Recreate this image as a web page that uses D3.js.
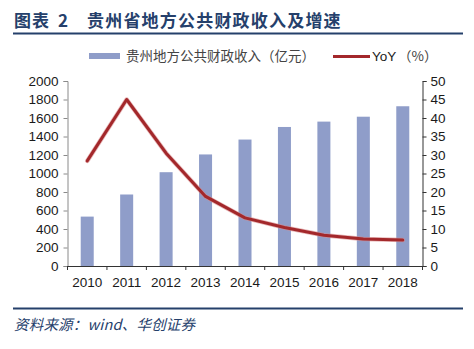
<!DOCTYPE html>
<html>
<head>
<meta charset="utf-8">
<script src="https://cdn.jsdelivr.net/npm/d3@7/dist/d3.min.js"></script>
<style>
  html, body { margin: 0; padding: 0; background: #fff; }
  svg { display: block; }
</style>
</head>
<body>
<svg id="chart" width="474" height="349"></svg>
<script>
// Guizhou public budget revenue (100 million yuan) and year-on-year growth (%)
const years = ["2010", "2011", "2012", "2013", "2014", "2015", "2016", "2017", "2018"];
const revenue = [534, 773, 1014, 1206, 1367, 1503, 1561, 1614, 1727];
const yoy = [28.4, 45.0, 30.5, 18.8, 13.0, 10.4, 8.3, 7.3, 7.0];
const leftTicks = [0, 200, 400, 600, 800, 1000, 1200, 1400, 1600, 1800, 2000];
const rightTicks = [0, 5, 10, 15, 20, 25, 30, 35, 40, 45, 50];

const titleLabel = "图表";
const titleNum = "2";
const titleMain = "贵州省地方公共财政收入及增速";
const legendBar = "贵州地方公共财政收入（亿元）";
const legendLine = "YoY";
const legendUnit = "（%）";
const sourceText = "资料来源：wind、华创证券";

const svg = d3.select("#chart");
const navy = "#25406b";
const barColor = "#8f9dc9";
const lineColor = "#a3282b";
const numFont = "'Liberation Sans', Arial, sans-serif";
const cjkFont = "'Noto Sans CJK SC', 'Noto Sans', sans-serif";

const plot = { left: 67.5, right: 422.5, top: 81, bottom: 266 };

const x = d3.scaleBand().domain(years).range([plot.left, plot.right]).paddingInner(0.67).paddingOuter(0.335);
const xb = d3.scaleBand().domain(years).range([plot.left, plot.right]);
const yL = d3.scaleLinear().domain([0, 2000]).range([plot.bottom, plot.top]);
const yR = d3.scaleLinear().domain([0, 50]).range([plot.bottom, plot.top]);

// Header
const titleAttrs = t => t.attr("y", 27).attr("font-family", cjkFont).attr("font-weight", 700)
  .attr("font-size", 17).attr("fill", navy);
svg.append("text").call(titleAttrs).attr("x", 14).attr("letter-spacing", 1).text(titleLabel);
svg.append("text").call(titleAttrs).attr("x", 58).text(titleNum);
svg.append("text").call(titleAttrs).attr("x", 87).attr("letter-spacing", 1.2).text(titleMain);
svg.append("line").attr("x1", 13).attr("x2", 463).attr("y1", 33.5).attr("y2", 33.5)
  .attr("stroke", navy).attr("stroke-width", 2);

// Bars
svg.append("g").selectAll("rect").data(years).join("rect")
  .attr("x", d => x(d))
  .attr("width", x.bandwidth())
  .attr("y", (d, i) => yL(revenue[i]))
  .attr("height", (d, i) => yL(0) - yL(revenue[i]))
  .attr("fill", barColor);

// Growth line
const line = d3.line()
  .x((d, i) => xb(years[i]) + xb.bandwidth() / 2)
  .y(d => yR(d));
svg.append("path").datum(yoy).attr("d", line)
  .attr("fill", "none").attr("stroke", "#d9888a").attr("stroke-width", 4.5)
  .attr("stroke-linejoin", "round").attr("stroke-linecap", "round").attr("opacity", 0.6);
svg.append("path").datum(yoy).attr("d", line)
  .attr("fill", "none").attr("stroke", lineColor).attr("stroke-width", 3)
  .attr("stroke-linejoin", "round").attr("stroke-linecap", "round");

// Axes
function styleAxis(g, color) {
  g.select(".domain").attr("stroke", color);
  g.selectAll(".tick line").attr("stroke", color);
  g.selectAll(".tick text").attr("font-family", numFont).attr("font-size", 13.5).attr("fill", "#1a1a1a");
}
const gL = svg.append("g").attr("transform", `translate(${plot.left},0)`)
  .call(d3.axisLeft(yL).tickValues(leftTicks).tickFormat(d3.format("d")).tickSizeOuter(0).tickSize(4).tickPadding(5));
styleAxis(gL, "#8a8a8a");

const gR = svg.append("g").attr("transform", `translate(${plot.right},0)`)
  .call(d3.axisRight(yR).tickValues(rightTicks).tickFormat(d3.format("d")).tickSizeOuter(0).tickSize(4).tickPadding(4));
styleAxis(gR, "#333");

const gB = svg.append("g").attr("transform", `translate(0,${plot.bottom})`)
  .call(d3.axisBottom(xb).tickSize(0).tickPadding(11));
styleAxis(gB, "#333");
gB.select(".domain").attr("d", `M${plot.left},0.5H${plot.right}`);
// category separator ticks
gB.append("g").selectAll("line").data(years.concat(["end"])).join("line")
  .attr("x1", (d, i) => plot.left + i * xb.step())
  .attr("x2", (d, i) => plot.left + i * xb.step())
  .attr("y1", 0).attr("y2", 4).attr("stroke", "#333");

// Legend
svg.append("rect").attr("x", 89).attr("y", 53).attr("width", 31).attr("height", 6).attr("fill", barColor);
svg.append("text").attr("x", 126).attr("y", 61)
  .attr("font-family", cjkFont).attr("font-size", 13.5).attr("fill", "#444").text(legendBar);
svg.append("line").attr("x1", 333).attr("x2", 370).attr("y1", 56.5).attr("y2", 56.5)
  .attr("stroke", lineColor).attr("stroke-width", 3);
svg.append("text").attr("x", 372).attr("y", 61)
  .attr("font-family", numFont).attr("font-size", 13.5).attr("fill", "#222").text(legendLine);
svg.append("text").attr("x", 398).attr("y", 61)
  .attr("font-family", cjkFont).attr("font-size", 13.5).attr("fill", "#444").text(legendUnit);

// Footer
svg.append("line").attr("x1", 13).attr("x2", 463).attr("y1", 308.5).attr("y2", 308.5)
  .attr("stroke", navy).attr("stroke-width", 2);
svg.append("text").attr("x", 14).attr("y", 330)
  .attr("font-family", cjkFont).attr("font-style", "italic").attr("font-size", 14.5)
  .attr("letter-spacing", 0.2).attr("fill", navy).text(sourceText);
</script>
</body>
</html>
